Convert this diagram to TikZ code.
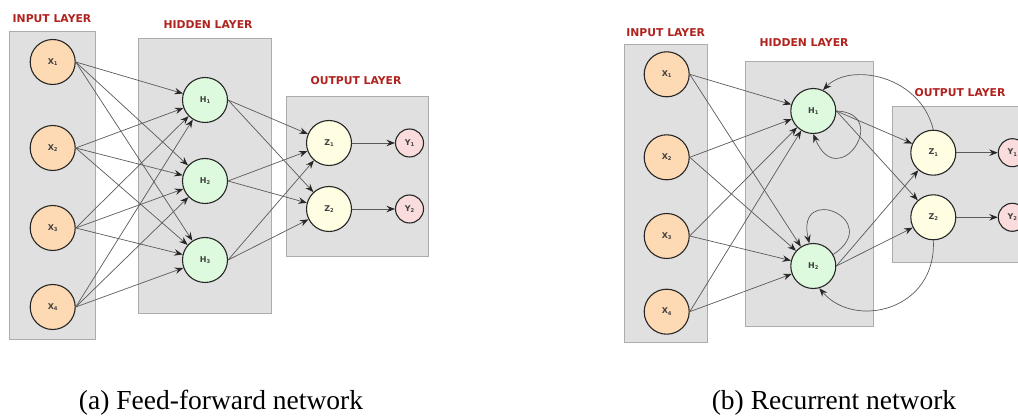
\documentclass[tikz,border=0pt]{standalone}
\usepackage{fontspec}
\setmainfont{Liberation Serif}
\newfontfamily\headfont{DejaVu Sans}
\usetikzlibrary{arrows.meta}

\definecolor{boxfill}{RGB}{224,224,224}
\definecolor{boxline}{RGB}{172,172,172}
\definecolor{headred}{RGB}{176,34,30}
\definecolor{inpfill}{RGB}{253,218,180}
\definecolor{hidfill}{RGB}{222,250,222}
\definecolor{zfill}{RGB}{255,253,226}
\definecolor{yfill}{RGB}{251,220,220}
\definecolor{edgegray}{RGB}{90,90,90}

% small lowered index for neuron names
\newcommand\lsub[1]{\raisebox{-1.4pt}{\fontsize{5.2}{5.5}\selectfont #1}}

\tikzset{
  layer/.style={draw=boxline, fill=boxfill, line width=0.9pt},
  head/.style={font=\headfont\bfseries\fontsize{10.8}{12}\selectfont, text=headred},
  neuron/.style={circle, draw=black!85, line width=1.1pt, minimum size=45pt, inner sep=0pt,
                 font=\headfont\bfseries\fontsize{8}{9}\selectfont, text=black!75},
  inp/.style={neuron, fill=inpfill},
  hid/.style={neuron, fill=hidfill},
  zout/.style={neuron, fill=zfill},
  yout/.style={neuron, minimum size=28pt, fill=yfill},
  conn/.style={draw=edgegray, line width=0.7pt,
               -{Stealth[length=8.5pt,width=6.5pt,inset=3pt,color=black!85]}},
  caption/.style={font=\fontsize{27.5}{30}\selectfont, anchor=base},
}

\begin{document}
\begin{tikzpicture}[x=1pt,y=-1pt]
\useasboundingbox (0,0) rectangle (1018,419);
\clip (0,0) rectangle (1018,419);

% ---------------- (a) feed-forward network ----------------
\draw[layer] (9.3,31) rectangle (95,339);
\draw[layer] (138,38) rectangle (271,313);
\draw[layer] (286,96) rectangle (428,256);
\node[head] (fhin)  at (52,19)  {INPUT LAYER};
\node[head] (fhhid) at (208,25) {HIDDEN LAYER};
\node[head] (fhout) at (356,81) {OUTPUT LAYER};

\node[inp] (fx1) at (52.7,62)  {X\lsub{1}};
\node[inp] (fx2) at (52.7,148) {X\lsub{2}};
\node[inp] (fx3) at (52.7,228) {X\lsub{3}};
\node[inp] (fx4) at (52.7,307) {X\lsub{4}};
\node[hid] (fh1) at (205,100) {H\lsub{1}};
\node[hid] (fh2) at (205,181) {H\lsub{2}};
\node[hid] (fh3) at (205,260) {H\lsub{3}};
\node[zout] (fz1) at (329,143) {Z\lsub{1}};
\node[zout] (fz2) at (329,209) {Z\lsub{2}};
\node[yout] (fy1) at (409.5,143) {Y\lsub{1}};
\node[yout] (fy2) at (409.5,209) {Y\lsub{2}};

\foreach \i in {1,...,4}
  \foreach \j in {1,2,3}
    \draw[conn] (fx\i.east) -- (fh\j);
\foreach \j in {1,2,3}
  \foreach \k in {1,2}
    \draw[conn] (fh\j.east) -- (fz\k);
\draw[conn] (fz1.east) -- (fy1.west);
\draw[conn] (fz2.east) -- (fy2.west);

\node[caption] (capa) at (221,410) {(a) Feed-forward network};

% ---------------- (b) recurrent network ----------------
\draw[layer] (624,44) rectangle (707,342.3);
\draw[layer] (745,61.3) rectangle (873.7,326.7);
\draw[layer] (892.3,106.7) rectangle (1030,262.3);
\node[head] (rhin)  at (665.7,33)  {INPUT LAYER};
\node[head] (rhhid) at (804,42.7)  {HIDDEN LAYER};
\node[head] (rhout) at (960,92.7)  {OUTPUT LAYER};

\node[inp] (rx1) at (666.7,74.3)  {X\lsub{1}};
\node[inp] (rx2) at (666.7,157.3) {X\lsub{2}};
\node[inp] (rx3) at (666.7,236)   {X\lsub{3}};
\node[inp] (rx4) at (666.7,311.7) {X\lsub{4}};
\node[hid] (rh1) at (813.3,111) {H\lsub{1}};
\node[hid] (rh2) at (813.3,266) {H\lsub{2}};
\node[zout] (rz1) at (933.3,152.7) {Z\lsub{1}};
\node[zout] (rz2) at (933.3,217.3) {Z\lsub{2}};
\node[yout] (ry1) at (1012.3,152.7) {Y\lsub{1}};
\node[yout] (ry2) at (1012.3,217.3) {Y\lsub{2}};

\foreach \i in {1,...,4}
  \foreach \j in {1,2}
    \draw[conn] (rx\i.east) -- (rh\j);
\foreach \j in {1,2}
  \foreach \k in {1,2}
    \draw[conn] (rh\j.east) -- (rz\k);
\draw[conn] (rz1.east) -- (ry1.west);
\draw[conn] (rz2.east) -- (ry2.west);

% self loops on the hidden units
\draw[conn] (rh1.east) .. controls (892,113) and (838,195) .. (rh1.south);
\draw[conn] (rh2.30) .. controls (885,220) and (795,182) .. (rh2.100);

% feedback from the outputs to the hidden units
\draw[conn] (rz1.north) .. controls (920,75) and (850,62) .. (rh1.65);
\draw[conn] (rz2.south) .. controls (937,310) and (855,330) .. (rh2.-75);

\node[caption] (capb) at (834,410) {(b) Recurrent network};
\end{tikzpicture}
\end{document}
